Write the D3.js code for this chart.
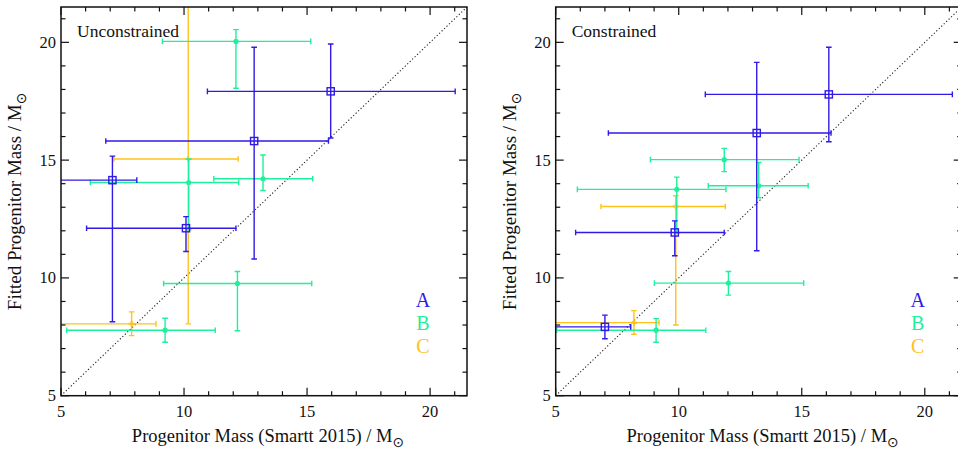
<!DOCTYPE html>
<html><head><meta charset="utf-8">
<script src="https://cdn.jsdelivr.net/npm/d3@7"></script>
<style>body{margin:0;background:#fff}svg{display:block}text{font-family:"Liberation Serif","DejaVu Serif",serif;fill:#111}</style>
</head><body>
<svg id="c" width="958" height="451"></svg>
<script>
// rows: [x, xLow, xHigh, y, yLow, yHigh]
const uncA = [
  [15.96, 10.95, 21.02, 17.92, 15.94, 19.93],
  [12.85, 6.82, 15.87, 15.81, 10.80, 19.79],
  [7.09, 4.0, 8.08, 14.15, 8.14, 15.17],
  [10.08, 6.04, 12.11, 12.11, 11.12, 12.60]
];
const uncB = [
  [12.11, 9.12, 15.15, 20.04, 18.05, 20.54],
  [10.19, 6.19, 12.22, 14.05, 12.04, 15.05],
  [13.21, 11.21, 15.23, 14.21, 13.71, 15.22],
  [12.17, 9.17, 15.19, 9.76, 7.76, 10.27],
  [9.23, 5.23, 11.27, 7.78, 7.27, 8.29]
];
const uncC = [
  [7.87, 4.0, 8.86, 8.05, 7.55, 8.56],
  [10.17, 7.15, 12.20, 15.05, 8.05, 25.0]
];
const conA = [
  [16.10, 11.08, 21.12, 17.79, 15.78, 19.79],
  [13.17, 7.14, 16.19, 16.15, 11.15, 19.15],
  [9.84, 5.81, 11.85, 11.93, 10.94, 12.42],
  [7.00, 4.0, 8.05, 7.92, 7.42, 8.42]
];
const conB = [
  [11.85, 8.85, 14.89, 15.02, 14.51, 15.50],
  [9.92, 5.88, 11.92, 13.76, 11.90, 14.28],
  [13.25, 11.20, 15.26, 13.91, 13.40, 14.90],
  [12.02, 9.01, 15.08, 9.78, 9.27, 10.27],
  [9.08, 5.04, 11.10, 7.78, 7.27, 8.27]
];
const conC = [
  [8.18, 4.0, 9.20, 8.10, 7.61, 8.61],
  [9.88, 6.84, 11.89, 13.03, 8.00, 13.49]
];
const seriesNames = ["A", "B", "C"];
const panelTitles = ["Unconstrained", "Constrained"];
const tickLabels = [5, 10, 15, 20];
const axisDomain = [5, 21.5];

const colors = {A: "#2f1ae6", B: "#1ef09c", C: "#ffc21a"};
const svg = d3.select("#c");
const panels = [
  {title: panelTitles[0], data: {A: uncA, B: uncB, C: uncC}, x0: 61},
  {title: panelTitles[1], data: {A: conA, B: conB, C: conC}, x0: 555.7}
];
const W = 406, T = 7, B = 395.7;

panels.forEach((p, pi) => {
  const x = d3.scaleLinear().domain(axisDomain).range([p.x0, p.x0 + W]);
  const y = d3.scaleLinear().domain(axisDomain).range([B, T]);
  const g = svg.append("g");
  const cid = "clip" + pi;
  svg.append("clipPath").attr("id", cid).append("rect")
    .attr("x", p.x0).attr("y", T).attr("width", W).attr("height", B - T);
  const plot = g.append("g").attr("clip-path", `url(#${cid})`);
  // diagonal
  plot.append("line").attr("x1", x(5)).attr("y1", y(5)).attr("x2", x(21.5)).attr("y2", y(21.5))
    .attr("stroke", "#222").attr("stroke-width", 1.1).attr("stroke-dasharray", "1.2,2.2");
  ["C", "B", "A"].forEach(s => {
    const col = colors[s];
    const sg = plot.append("g").attr("stroke", col).attr("fill", "none").attr("stroke-width", 1.4);
    p.data[s].forEach(d => {
      const [cx, xl, xh, cy, yl, yh] = d;
      sg.append("line").attr("x1", x(xl)).attr("x2", x(xh)).attr("y1", y(cy)).attr("y2", y(cy));
      sg.append("line").attr("x1", x(cx)).attr("x2", x(cx)).attr("y1", y(yl)).attr("y2", y(yh));
      const cap = 2.8;
      [xl, xh].forEach(v => sg.append("line").attr("x1", x(v)).attr("x2", x(v)).attr("y1", y(cy) - cap).attr("y2", y(cy) + cap));
      [yl, yh].forEach(v => sg.append("line").attr("y1", y(v)).attr("y2", y(v)).attr("x1", x(cx) - cap).attr("x2", x(cx) + cap));
      if (s === "A") {
        sg.append("rect").attr("x", x(cx) - 3.6).attr("y", y(cy) - 3.6).attr("width", 7.2).attr("height", 7.2);
      } else if (s === "B") {
        sg.append("circle").attr("cx", x(cx)).attr("cy", y(cy)).attr("r", 2.6).attr("fill", col).attr("stroke", "none");
      } else {
        sg.append("line").attr("x1", x(cx) - 3).attr("x2", x(cx) + 3).attr("y1", y(cy)).attr("y2", y(cy)).attr("stroke-width", 2);
        sg.append("line").attr("x1", x(cx)).attr("x2", x(cx)).attr("y1", y(cy) - 3).attr("y2", y(cy) + 3).attr("stroke-width", 2);
      }
    });
  });
  // frame
  g.append("rect").attr("x", p.x0).attr("y", T).attr("width", W).attr("height", B - T)
    .attr("fill", "none").attr("stroke", "#111").attr("stroke-width", 1.5);
  // ticks
  const tg = g.append("g").attr("stroke", "#111").attr("stroke-width", 1.2);
  d3.range(5, 22).forEach(v => {
    const L = tickLabels.includes(v) ? 8 : 4.5;
    tg.append("line").attr("x1", x(v)).attr("x2", x(v)).attr("y1", B).attr("y2", B - L);
    tg.append("line").attr("x1", x(v)).attr("x2", x(v)).attr("y1", T).attr("y2", T + L);
    tg.append("line").attr("y1", y(v)).attr("y2", y(v)).attr("x1", p.x0).attr("x2", p.x0 + L);
    tg.append("line").attr("y1", y(v)).attr("y2", y(v)).attr("x1", p.x0 + W).attr("x2", p.x0 + W - L);
  });
  tickLabels.forEach(v => {
    g.append("text").attr("x", x(v)).attr("y", 417).attr("text-anchor", "middle")
      .attr("font-size", 16.5).text(v);
    g.append("text").attr("x", p.x0 - 5).attr("y", y(v) + 5.5).attr("text-anchor", "end")
      .attr("font-size", 16.5).text(v);
  });
  // title in panel
  g.append("text").attr("x", p.x0 + 16).attr("y", 37).attr("font-size", 17.5).text(p.title);
  // legend
  seriesNames.forEach((s, i) => {
    g.append("text").attr("x", p.x0 + 362).attr("y", 307 + i * 23).attr("text-anchor", "middle")
      .attr("font-size", 20).style("fill", colors[s]).text(s);
  });
  // x-axis title
  const xt = g.append("text").attr("x", p.x0 + 207).attr("y", 442).attr("text-anchor", "middle").attr("font-size", 18.5);
  xt.append("tspan").text("Progenitor Mass (Smartt 2015) / M");
  xt.append("tspan").attr("dy", 5).attr("font-size", 14).attr("font-family", "DejaVu Sans").text("⊙");
  // y-axis title
  const yt = g.append("text").attr("transform", `translate(${p.x0 - 40},${(T + B) / 2}) rotate(-90)`)
    .attr("text-anchor", "middle").attr("font-size", 19);
  yt.append("tspan").text("Fitted Progenitor Mass / M");
  yt.append("tspan").attr("dy", 5).attr("font-size", 14).attr("font-family", "DejaVu Sans").text("⊙");
});
</script>
</body></html>
